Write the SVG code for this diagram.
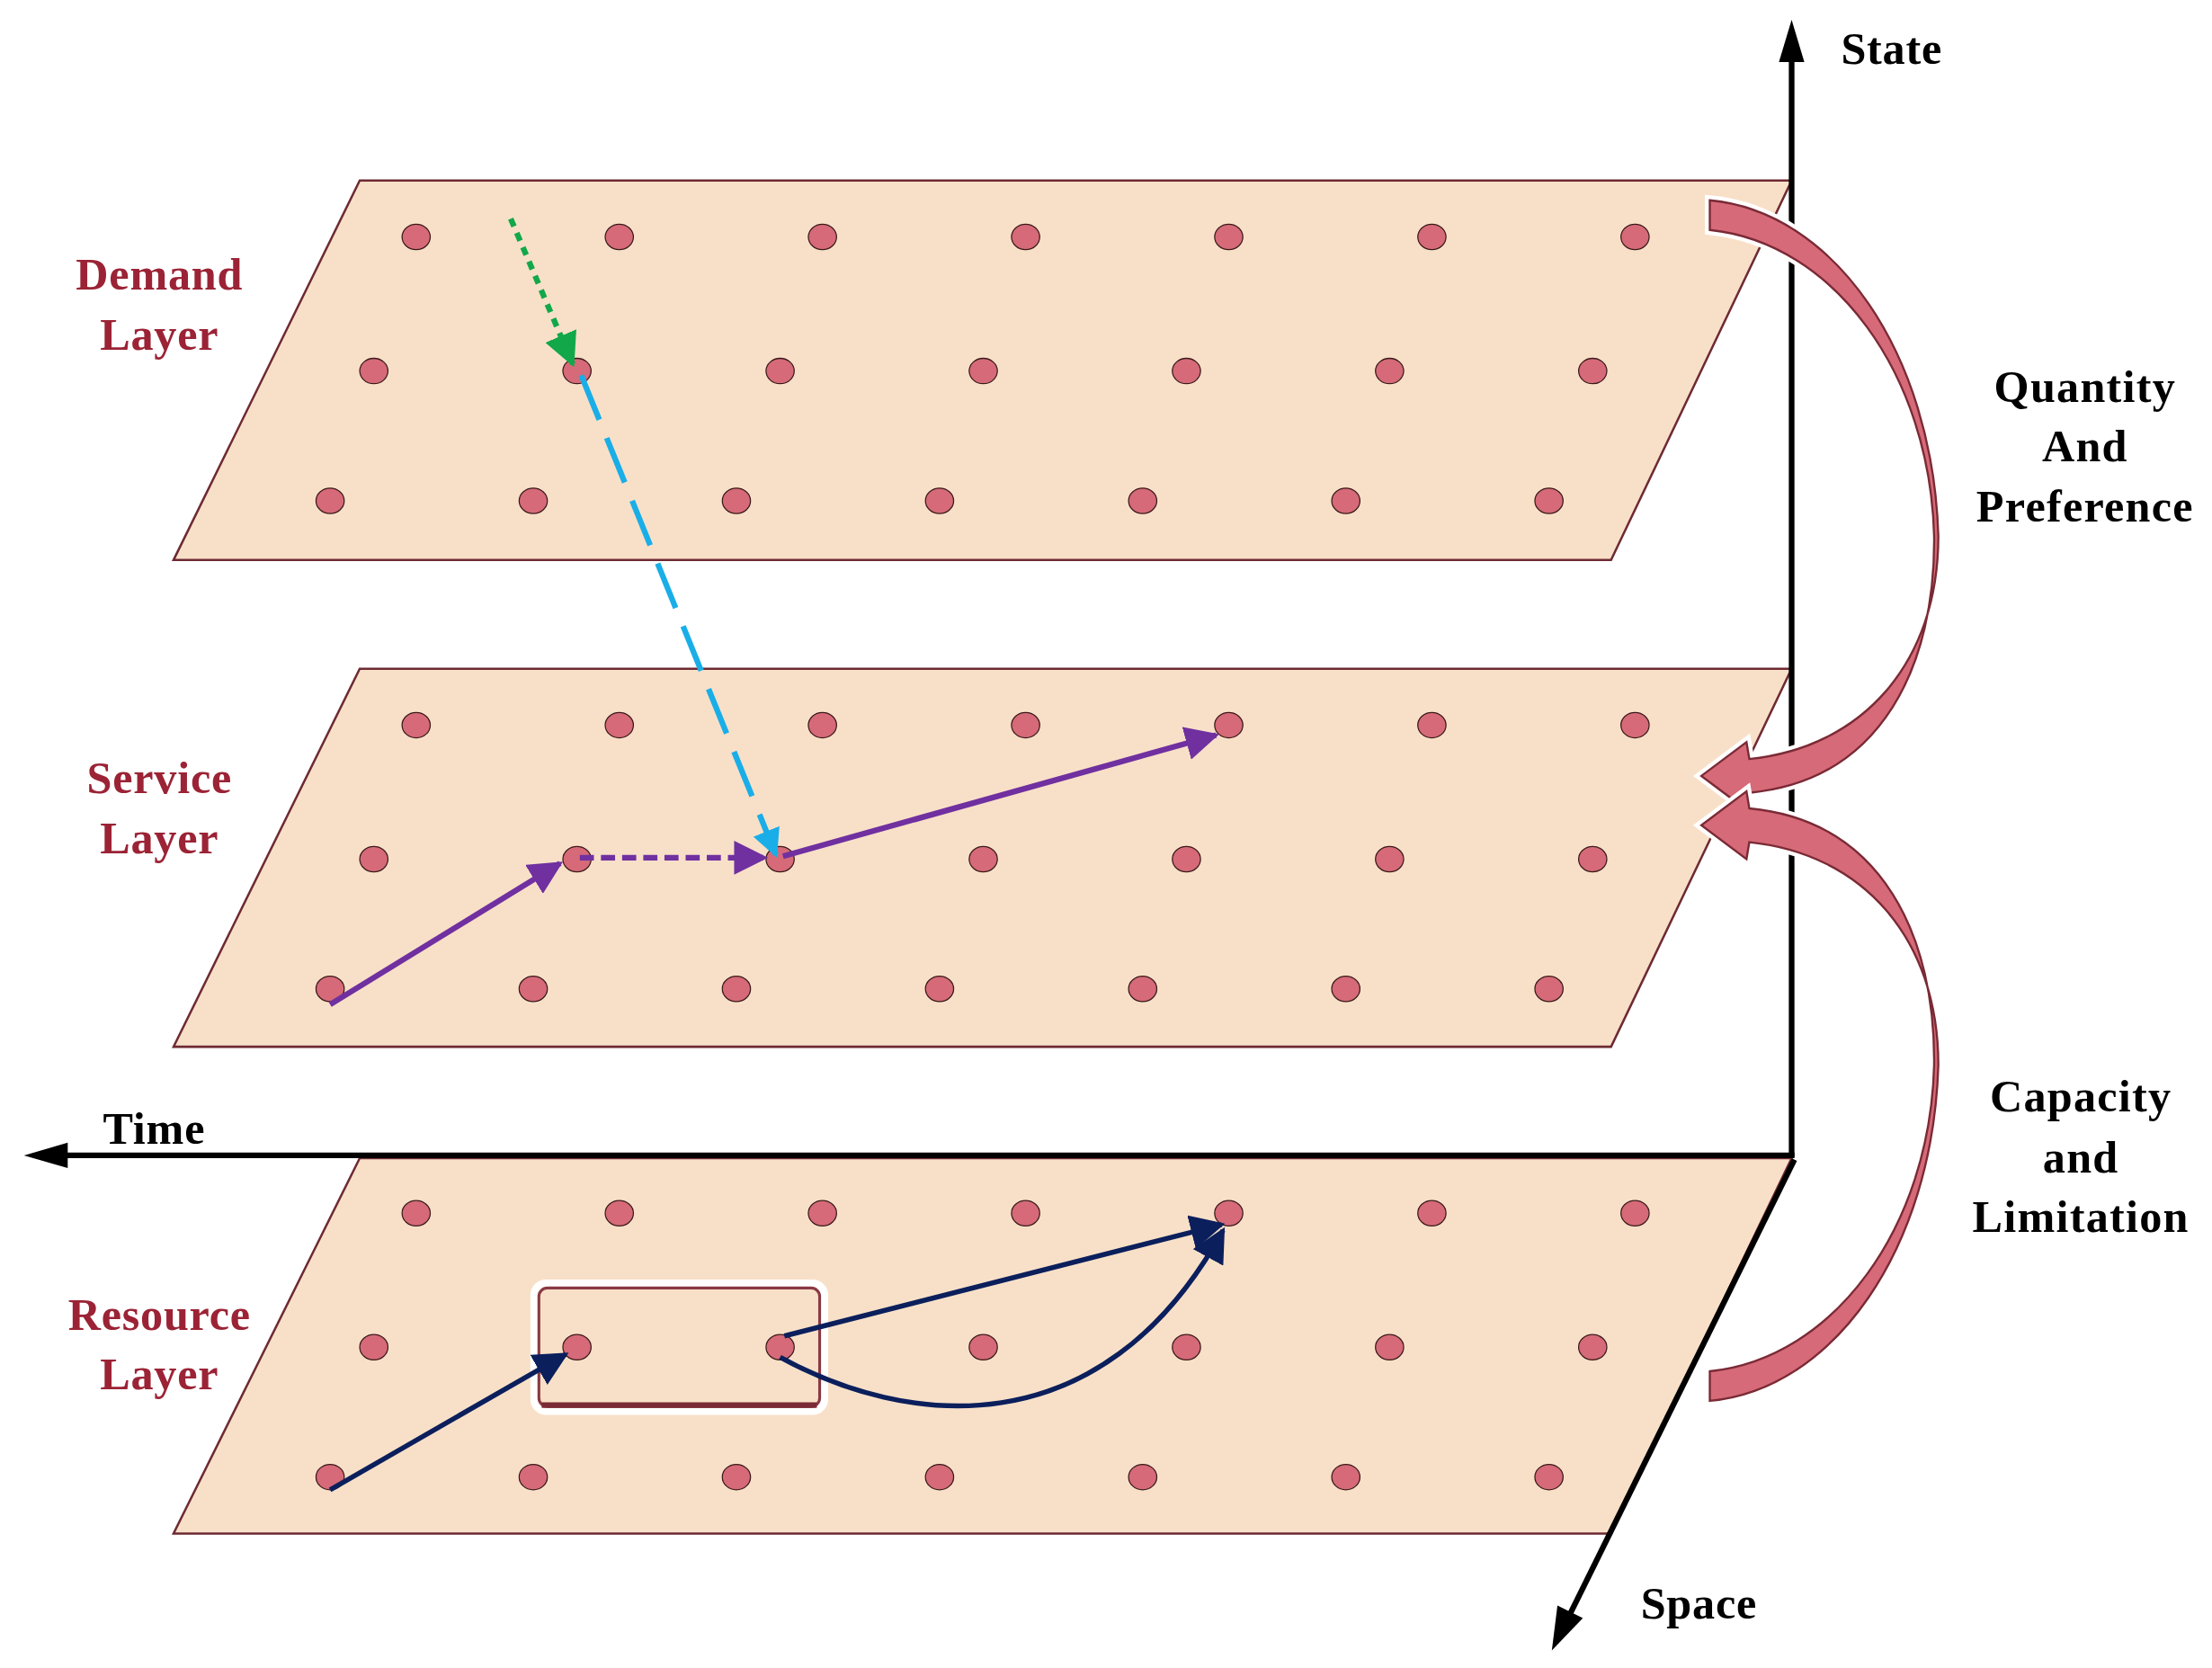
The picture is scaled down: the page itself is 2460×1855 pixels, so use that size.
<svg xmlns="http://www.w3.org/2000/svg" width="2460" height="1855" viewBox="0 0 2460 1855">
<defs>
<style>
.plane{fill:#f8e0c8;stroke:#6e2a33;stroke-width:1.6}
.dot{fill:#d66a78;stroke:#3a1a1a;stroke-width:0.8}
.lbl{font-family:"Liberation Serif",serif;font-weight:bold;font-size:32px;fill:#9b2335;text-anchor:middle;letter-spacing:0.5px}
.ax{font-family:"Liberation Serif",serif;font-weight:bold;font-size:32px;fill:#000;letter-spacing:0.5px}
.rt{font-family:"Liberation Serif",serif;font-weight:bold;font-size:32px;fill:#000;text-anchor:middle;letter-spacing:0.8px}
.axis{stroke:#000;stroke-width:4;fill:none}
.fat{fill:#d66a78;stroke:#7a2a35;stroke-width:1.5}
</style>
<marker id="ag" viewBox="0 0 10 10" refX="9" refY="5" markerWidth="6" markerHeight="6" orient="auto"><path d="M0,0L10,5L0,10z" fill="#12a84a"/></marker>
<marker id="ac" viewBox="0 0 10 10" refX="9" refY="5" markerWidth="5" markerHeight="5" orient="auto"><path d="M0,0L10,5L0,10z" fill="#1aaee8"/></marker>
<marker id="ap" viewBox="0 0 10 10" refX="9" refY="5" markerWidth="6" markerHeight="6" orient="auto"><path d="M0,0L10,5L0,10z" fill="#7030a0"/></marker>
<marker id="an" viewBox="0 0 10 10" refX="9" refY="5" markerWidth="7" markerHeight="7" orient="auto"><path d="M0,0L10,5L0,10z" fill="#0b1f5c"/></marker>
<g id="dots">
<ellipse class="dot" cx="295" cy="40" rx="10" ry="9"/><ellipse class="dot" cx="439" cy="40" rx="10" ry="9"/><ellipse class="dot" cx="583" cy="40" rx="10" ry="9"/><ellipse class="dot" cx="727" cy="40" rx="10" ry="9"/><ellipse class="dot" cx="871" cy="40" rx="10" ry="9"/><ellipse class="dot" cx="1015" cy="40" rx="10" ry="9"/><ellipse class="dot" cx="1159" cy="40" rx="10" ry="9"/>
<ellipse class="dot" cx="265" cy="135" rx="10" ry="9"/><ellipse class="dot" cx="409" cy="135" rx="10" ry="9"/><ellipse class="dot" cx="553" cy="135" rx="10" ry="9"/><ellipse class="dot" cx="697" cy="135" rx="10" ry="9"/><ellipse class="dot" cx="841" cy="135" rx="10" ry="9"/><ellipse class="dot" cx="985" cy="135" rx="10" ry="9"/><ellipse class="dot" cx="1129" cy="135" rx="10" ry="9"/>
<ellipse class="dot" cx="234" cy="227" rx="10" ry="9"/><ellipse class="dot" cx="378" cy="227" rx="10" ry="9"/><ellipse class="dot" cx="522" cy="227" rx="10" ry="9"/><ellipse class="dot" cx="666" cy="227" rx="10" ry="9"/><ellipse class="dot" cx="810" cy="227" rx="10" ry="9"/><ellipse class="dot" cx="954" cy="227" rx="10" ry="9"/><ellipse class="dot" cx="1098" cy="227" rx="10" ry="9"/>
</g>
<path id="fatp" d="M1212,142 C1300,150 1370,250 1374,380 C1374,470 1320,530 1240,538 L1238,526 L1206,550 L1238,574 L1240,562 C1335,553 1372,470 1371,380 C1368,265 1300,172 1212,163 Z"/>
</defs>
<g transform="scale(1.5689)">
<g id="demand">
<path class="plane" d="M255,128 L1270,128 L1142,397 L123,397 Z"/>
<use href="#dots" transform="translate(0,128)"/>
<text class="lbl" x="113" y="205">Demand</text><text class="lbl" x="113" y="248">Layer</text>
</g>
<g id="service">
<path class="plane" d="M255,474 L1270,474 L1142,742 L123,742 Z"/>
<use href="#dots" transform="translate(0,474)"/>
<text class="lbl" x="113" y="562">Service</text><text class="lbl" x="113" y="605">Layer</text>
</g>
<g id="resource">
<path class="plane" d="M255,821 L1270,821 L1142,1087 L123,1087 Z"/>
<use href="#dots" transform="translate(0,820)"/>
<rect x="379" y="910" width="205" height="90" rx="8" fill="none" stroke="#fff" stroke-width="6"/>
<rect x="382" y="913" width="199" height="84" rx="6" fill="none" stroke="#8a3a44" stroke-width="2"/>
<line x1="384" y1="996" x2="579" y2="996" stroke="#7a2a35" stroke-width="4"/>
<text class="lbl" x="113" y="943">Resource</text><text class="lbl" x="113" y="985">Layer</text>
</g>
<g id="axes">
<path class="axis" d="M1270,820 L1270,40"/><path d="M1270,14 L1261,44 L1279,44 Z" fill="#000"/>
<path class="axis" d="M1272,819 L45,819"/><path d="M17,819 L48,810 L48,828 Z" fill="#000"/>
<path class="axis" d="M1272,822 L1112,1146"/><path d="M1100,1170 L1104,1138 L1122,1147 Z" fill="#000"/>
<text class="ax" x="1305" y="45">State</text>
<text class="ax" x="73" y="811">Time</text>
<text class="ax" x="1163" y="1147">Space</text>
</g>
<g id="connectors" fill="none">
<path d="M362,155 L406,258" stroke="#12a84a" stroke-width="4" stroke-dasharray="6,5" marker-end="url(#ag)"/>
<path d="M412,266 L550,606" stroke="#1aaee8" stroke-width="4" stroke-dasharray="34,14" marker-end="url(#ac)"/>
<path d="M234,712 L397,612" stroke="#7030a0" stroke-width="4" marker-end="url(#ap)"/>
<path d="M411,608 L542,608" stroke="#7030a0" stroke-width="4" stroke-dasharray="10,5" marker-end="url(#ap)"/>
<path d="M555,607 L862,521" stroke="#7030a0" stroke-width="4" marker-end="url(#ap)"/>
<path d="M234,1056 L401,960" stroke="#0b1f5c" stroke-width="3.5" marker-end="url(#an)"/>
<path d="M556,947 L866,868" stroke="#0b1f5c" stroke-width="3.5" marker-end="url(#an)"/>
<path d="M553,962 C640,1010 780,1030 867,872" stroke="#0b1f5c" stroke-width="3.5" marker-end="url(#an)"/>
</g>
<g id="fat1">
<use href="#fatp" stroke="#fff" stroke-width="7" fill="none"/>
<use href="#fatp" class="fat"/>
</g>
<g id="fat2" transform="translate(0,1135) scale(1,-1)">
<use href="#fatp" stroke="#fff" stroke-width="7" fill="none"/>
<use href="#fatp" class="fat"/>
</g>
<g id="side-text">
<text class="rt" x="1478" y="285">Quantity</text><text class="rt" x="1478" y="327">And</text><text class="rt" x="1478" y="370">Preference</text>
<text class="rt" x="1475" y="788">Capacity</text><text class="rt" x="1475" y="831">and</text><text class="rt" x="1475" y="873">Limitation</text>
</g>
</g>
</svg>
